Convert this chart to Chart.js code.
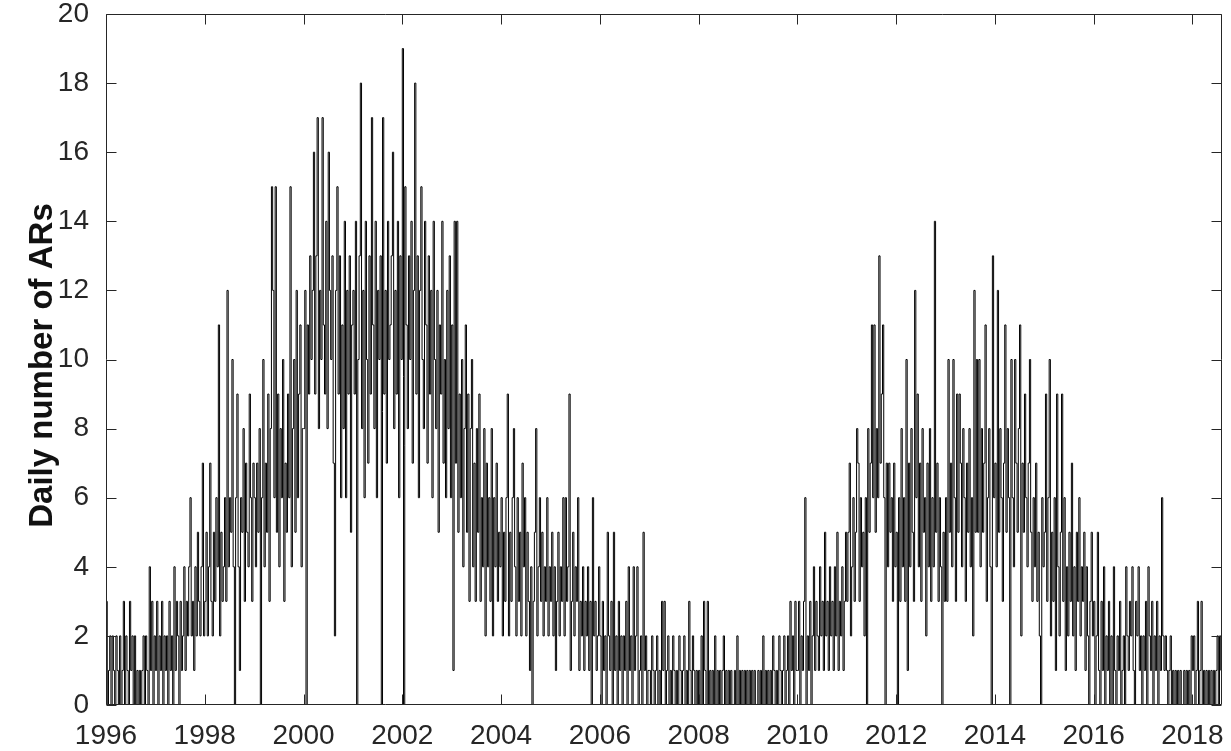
<!DOCTYPE html>
<html>
<head>
<meta charset="utf-8">
<script src="https://cdn.jsdelivr.net/npm/chart.js@4.4.1/dist/chart.umd.min.js"></script>
<style>
html,body{margin:0;padding:0;background:#fff;}
#wrap{width:1231px;height:751px;}
</style>
</head>
<body>
<div id="wrap"><canvas id="c" width="1231" height="751"></canvas></div>
<script>
const startYear = 1996;
const samplesPerYear = 40;
const d1996 = [3,0,1,2,0,2,1,0,2,1,0,2,0,1,3,0,2,1,0,3,1,2,0,2,0,1,0,1,0,1,2,0,2,1,0,4,1,3,0,2];
const d1997 = [1,3,0,2,1,3,0,2,1,2,0,3,1,2,0,4,1,3,2,0,3,1,2,4,1,3,2,4,6,2,3,1,4,2,5,3,2,4,7,2];
const d1998 = [3,5,2,4,7,3,2,5,3,6,4,11,2,5,3,4,6,3,12,4,6,5,10,4,0,6,9,4,1,6,5,8,3,7,5,4,9,6,3,7];
const d1999 = [6,4,7,5,8,0,6,10,4,7,5,9,3,8,15,12,6,15,5,9,4,8,6,10,3,7,5,9,6,15,4,8,10,5,12,6,9,11,4,8];
const d2000 = [8,12,0,11,9,13,10,12,16,9,13,17,8,12,10,17,11,9,14,8,16,12,10,13,7,2,12,15,9,13,6,11,8,14,6,12,9,13,5,11];
const d2001 = [12,9,14,0,10,13,18,8,12,6,14,10,7,13,9,17,11,8,14,6,12,10,13,0,17,9,12,7,14,10,11,13,16,8,12,9,14,6,13,10];
const d2002 = [19,0,15,11,8,13,10,14,7,12,18,9,13,6,12,15,10,8,14,11,7,13,9,12,6,14,10,8,12,5,11,9,14,7,10,6,12,8,13,6];
const d2003 = [11,1,14,7,14,5,9,6,10,4,8,11,5,9,3,8,10,4,7,3,8,5,9,3,6,4,8,2,7,4,6,3,8,2,6,4,7,3,5,4];
const d2004 = [6,2,5,3,6,9,2,5,3,6,8,4,2,6,3,5,2,7,4,6,2,5,3,1,4,0,3,5,8,2,4,6,3,5,2,4,3,6,2,4];
const d2005 = [3,5,2,4,1,3,5,2,4,3,6,2,6,3,4,9,1,3,5,2,4,3,6,1,3,2,4,1,3,2,4,1,3,0,6,2,3,1,2,4];
const d2006 = [2,0,3,1,2,0,5,2,1,3,0,5,1,2,0,3,1,2,0,2,1,3,0,4,1,2,0,4,1,2,4,0,1,2,0,5,1,2,0,1];
const d2007 = [1,0,2,1,0,1,2,0,1,0,3,1,3,0,1,2,0,1,0,2,1,0,1,0,2,1,0,1,2,0,1,0,3,1,0,2,1,0,1,0];
const d2008 = [1,0,2,0,3,1,0,3,0,1,0,1,0,2,0,1,0,1,0,1,2,0,1,0,1,0,1,0,0,1,0,2,0,1,0,1,0,1,0,1];
const d2009 = [0,1,0,1,0,1,0,0,1,0,1,0,2,0,1,0,1,0,1,0,2,1,0,1,0,2,1,0,1,2,0,1,2,0,3,1,2,0,3,1];
const d2010 = [1,3,0,2,1,3,6,0,2,1,3,0,2,4,1,3,2,1,4,2,3,1,5,2,3,1,4,2,3,1,4,2,5,1,3,2,4,1,3,5];
const d2011 = [3,5,7,2,4,6,3,5,8,7,3,6,4,5,2,6,0,8,5,7,11,6,11,5,8,6,13,7,9,11,6,0,7,4,7,5,6,3,7,4];
const d2012 = [5,0,6,3,8,4,6,3,10,1,7,4,8,5,3,12,6,9,4,7,3,8,5,6,2,7,4,8,3,6,4,14,5,7,3,6,4,0,5,3];
const d2013 = [6,3,10,5,7,4,10,6,3,9,5,9,7,4,8,6,3,7,5,8,4,6,2,12,5,10,5,10,4,8,5,7,11,3,6,8,4,0,13,6];
const d2014 = [7,4,12,5,8,6,3,7,11,5,8,6,0,10,6,4,10,7,5,8,11,2,7,5,9,6,4,7,10,5,3,6,4,7,3,5,2,0,6,4];
const d2015 = [5,9,3,6,10,2,5,3,6,1,9,4,2,5,9,3,6,1,4,2,5,3,7,2,4,1,5,3,6,2,4,3,5,1,4,2,0,3,5,2];
const d2016 = [3,0,2,5,1,0,3,1,4,0,2,1,3,0,2,0,4,1,0,2,1,3,0,1,2,0,4,2,1,3,2,4,1,0,3,2,4,1,2,0];
const d2017 = [2,1,3,0,4,2,1,3,0,2,1,3,0,2,1,6,2,1,2,1,0,1,2,0,1,0,1,0,1,0,1,0,0,1,0,1,0,1,0,2];
const d2018 = [1,2,0,1,3,0,1,3,0,1,0,1,0,1,0,1,0,1,0,1,2,0,2,1];

const xTicks = [1996,1998,2000,2002,2004,2006,2008,2010,2012,2014,2016,2018];
const yTicks = [0,2,4,6,8,10,12,14,16,18,20];
const xMin = 1996, xMax = 2018.6, yMin = 0, yMax = 20;
const yTitle = 'Daily number of ARs';

const yearly = [d1996,d1997,d1998,d1999,d2000,d2001,d2002,d2003,d2004,d2005,d2006,d2007,d2008,d2009,d2010,d2011,d2012,d2013,d2014,d2015,d2016,d2017,d2018];
const points = [];
yearly.forEach((arr, k) => {
  arr.forEach((v, i) => points.push({x: startYear + k + i / samplesPerYear, y: v}));
});

const FONT = "'Liberation Sans', Arial, Helvetica, sans-serif";
const AXIS = '#262626';

const boxTicks = {
  id: 'boxTicks',
  afterDatasetsDraw(chart) {
    const {ctx, chartArea: a, scales: {x, y}} = chart;
    const L = Math.round(a.left) + 0.5, R = Math.round(a.right) - 0.5;
    const T = Math.round(a.top) + 0.5, B = Math.round(a.bottom) - 0.5;
    const len = 10;
    ctx.save();
    ctx.strokeStyle = AXIS;
    ctx.lineWidth = 1;
    ctx.beginPath();
    ctx.rect(L, T, R - L, B - T);
    xTicks.forEach(v => {
      const px = Math.round(x.getPixelForValue(v)) + 0.5;
      ctx.moveTo(px, B); ctx.lineTo(px, B - len);
      ctx.moveTo(px, T); ctx.lineTo(px, T + len);
    });
    yTicks.forEach(v => {
      const py = Math.round(y.getPixelForValue(v)) + 0.5;
      ctx.moveTo(L, py); ctx.lineTo(L + len, py);
      ctx.moveTo(R, py); ctx.lineTo(R - len, py);
    });
    ctx.stroke();
    // y-axis title
    ctx.translate(43, 365.5);
    ctx.rotate(-Math.PI / 2);
    ctx.fillStyle = '#111';
    ctx.font = "bold 33px " + FONT;
    ctx.textAlign = 'center';
    ctx.textBaseline = 'middle';
    ctx.fillText(yTitle, 0, 0);
    ctx.restore();
  }
};

new Chart(document.getElementById('c'), {
  type: 'line',
  data: {
    datasets: [{
      data: points,
      borderColor: '#000',
      borderWidth: 1,
      pointRadius: 0,
      stepped: true,
      fill: false
    }]
  },
  options: {
    responsive: false,
    animation: false,
    devicePixelRatio: 1,
    normalized: true,
    layout: {padding: {left: 0, right: 9, top: 14, bottom: 0}},
    plugins: {legend: {display: false}, tooltip: {enabled: false}},
    scales: {
      x: {
        type: 'linear', min: xMin, max: xMax,
        afterBuildTicks: s => { s.ticks = xTicks.map(v => ({value: v})); },
        afterFit: s => { s.height = 46; s.paddingLeft = 0; s.paddingRight = 0; },
        grid: {display: false},
        border: {display: false},
        ticks: {
          color: AXIS, padding: 6, maxRotation: 0, autoSkip: false,
          font: {family: FONT, size: 28},
          callback: v => String(v)
        }
      },
      y: {
        type: 'linear', min: yMin, max: yMax,
        afterBuildTicks: s => { s.ticks = yTicks.map(v => ({value: v})); },
        afterFit: s => { s.width = 106; s.paddingTop = 0; s.paddingBottom = 0; },
        grid: {display: false},
        border: {display: false},
        ticks: {
          color: AXIS, padding: 9,
          font: {family: FONT, size: 28},
          callback: v => String(v)
        }
      }
    }
  },
  plugins: [boxTicks]
});
</script>
</body>
</html>
